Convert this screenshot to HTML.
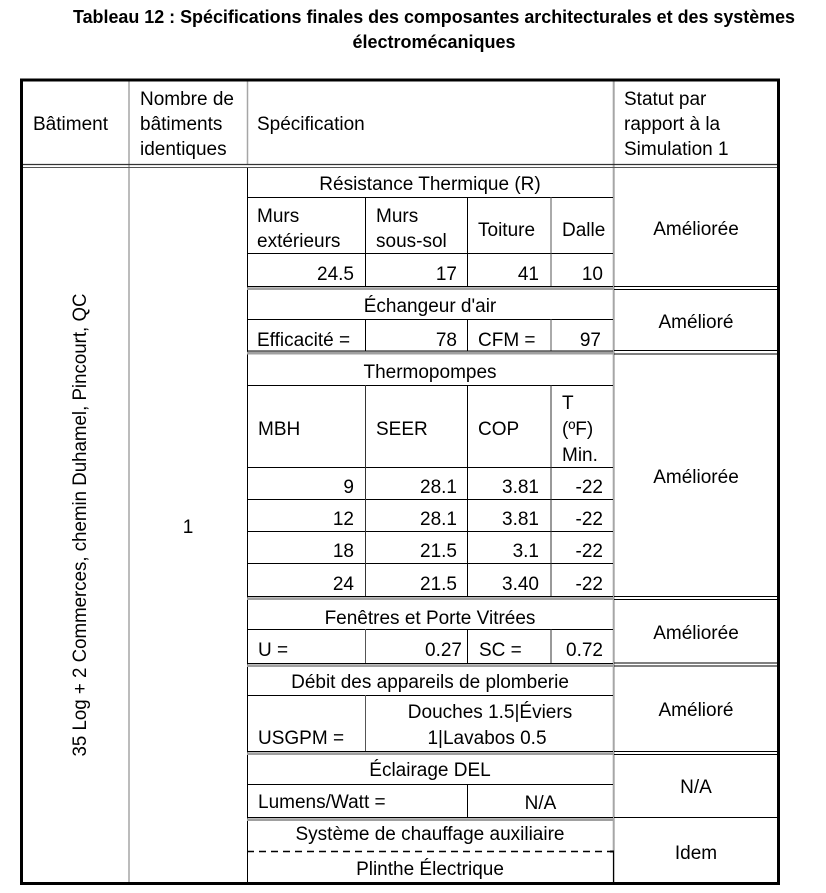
<!DOCTYPE html>
<html>
<head>
<meta charset="utf-8">
<style>
  html, body { margin: 0; padding: 0; background: #ffffff; }
  body { width: 826px; height: 893px; overflow: hidden; }
  svg { display: block; }
  text { font-family: "Liberation Sans", Arial, sans-serif; font-size: 19px; fill: #000; }
  .t { font-weight: bold; font-size: 18px; }
  .m { text-anchor: middle; }
  .e { text-anchor: end; }
</style>
</head>
<body>
<svg width="826" height="893" viewBox="0 0 826 893" xmlns="http://www.w3.org/2000/svg">
  <!-- Title -->
  <text class="t m" x="434" y="23" textLength="722" lengthAdjust="spacingAndGlyphs">Tableau 12 : Spécifications finales des composantes architecturales et des systèmes</text>
  <text class="t m" x="434" y="48">électromécaniques</text>

  <!-- Gray column lines -->
  <line x1="129" y1="81" x2="129" y2="882" stroke="#a6a6a6" stroke-width="1.5"/>
  <line x1="247.5" y1="81" x2="247.5" y2="164" stroke="#a6a6a6" stroke-width="1.5"/>
  <line x1="613.7" y1="81" x2="613.7" y2="882" stroke="#a6a6a6" stroke-width="2"/>
  <line x1="613.5" y1="852" x2="613.5" y2="882" stroke="#000" stroke-width="1"/>

  <!-- Header double line -->
  <line x1="23" y1="164.5" x2="777" y2="164.5" stroke="#333" stroke-width="1.3"/>
  <line x1="23" y1="167.5" x2="777" y2="167.5" stroke="#555" stroke-width="1.1"/>

  <!-- Sub-table left edge -->
  <line x1="247.5" y1="168" x2="247.5" y2="882" stroke="#000" stroke-width="1"/>

  <g stroke="#000" stroke-width="1">
    <!-- Section 1 Résistance -->
    <line x1="247" y1="197.5" x2="613" y2="197.5"/>
    <line x1="247" y1="253.5" x2="613" y2="253.5"/>
    <line x1="365.5" y1="197" x2="365.5" y2="286"/>
    <line x1="467.5" y1="197" x2="467.5" y2="286"/>
    <line x1="551" y1="197" x2="551" y2="286" stroke="#555"/>
    <line x1="247" y1="286.5" x2="613" y2="286.5"/>
    <line x1="614" y1="286.5" x2="777" y2="286.5"/>
    <line x1="614" y1="289.5" x2="777" y2="289.5"/>

    <!-- Section 2 Échangeur -->
    <line x1="247" y1="319.5" x2="613" y2="319.5"/>
    <line x1="365.5" y1="319" x2="365.5" y2="351"/>
    <line x1="467.5" y1="319" x2="467.5" y2="351"/>
    <line x1="551" y1="319" x2="551" y2="351" stroke="#555"/>
    <line x1="247" y1="351" x2="613" y2="351"/>
    <line x1="614" y1="350.5" x2="777" y2="350.5"/>
    <line x1="614" y1="354" x2="777" y2="354"/>

    <!-- Section 3 Thermopompes -->
    <line x1="247" y1="385.5" x2="613" y2="385.5"/>
    <line x1="247" y1="467.5" x2="613" y2="467.5"/>
    <line x1="247" y1="499.5" x2="613" y2="499.5"/>
    <line x1="247" y1="531.5" x2="613" y2="531.5"/>
    <line x1="247" y1="563.5" x2="613" y2="563.5"/>
    <line x1="365.5" y1="385" x2="365.5" y2="596" stroke="#333"/>
    <line x1="467.5" y1="385" x2="467.5" y2="596"/>
    <line x1="551" y1="385" x2="551" y2="596" stroke="#333"/>
    <line x1="247" y1="596.5" x2="613" y2="596.5"/>
    <line x1="614" y1="596.5" x2="777" y2="596.5"/>
    <line x1="614" y1="599.5" x2="777" y2="599.5"/>

    <!-- Section 4 Fenêtres -->
    <line x1="247" y1="629.5" x2="613" y2="629.5"/>
    <line x1="365.5" y1="629" x2="365.5" y2="663" stroke="#555"/>
    <line x1="467.5" y1="629" x2="467.5" y2="663"/>
    <line x1="551" y1="629" x2="551" y2="663" stroke="#333"/>
    <line x1="247" y1="663.5" x2="613" y2="663.5"/>
    <line x1="614" y1="663" x2="777" y2="663"/>
    <line x1="614" y1="666" x2="777" y2="666"/>

    <!-- Section 5 Débit -->
    <line x1="247" y1="695.5" x2="613" y2="695.5"/>
    <line x1="365.5" y1="695" x2="365.5" y2="751" stroke="#555"/>
    <line x1="247" y1="751.5" x2="613" y2="751.5"/>
    <line x1="614" y1="751.5" x2="777" y2="751.5"/>
    <line x1="614" y1="754.5" x2="777" y2="754.5"/>

    <!-- Section 6 Éclairage -->
    <line x1="247" y1="784.5" x2="613" y2="784.5"/>
    <line x1="467.5" y1="784" x2="467.5" y2="817"/>
    <line x1="247" y1="817.5" x2="613" y2="817.5"/>
    <line x1="614" y1="817.5" x2="777" y2="817.5"/>

    <!-- Section 7 Système: dashed -->
    <line x1="247" y1="851.5" x2="610" y2="851.5" stroke-dasharray="7,5" stroke-width="1.5"/>
    <line x1="610" y1="851.5" x2="614" y2="851.5" stroke-width="2"/>
  </g>

  <!-- Gray thick parts of double lines in sub-table -->
  <g fill="#a0a0a0">
    <rect x="247" y="287.3" width="366" height="2.7"/>
    <rect x="247" y="351.8" width="366" height="2.7"/>
    <rect x="247" y="597.3" width="366" height="2.7"/>
    <rect x="247" y="664.3" width="366" height="2.7"/>
    <rect x="247" y="752.3" width="366" height="2.7"/>
    <rect x="247" y="818.3" width="366" height="2.7"/>
  </g>

  <!-- Outer border -->
  <rect x="21.5" y="80" width="757" height="803.5" fill="none" stroke="#000" stroke-width="3"/>

  <!-- Header texts -->
  <text x="33" y="130">Bâtiment</text>
  <text x="140" y="105">Nombre de</text>
  <text x="140" y="130">bâtiments</text>
  <text x="140" y="155">identiques</text>
  <text x="257" y="130">Spécification</text>
  <text x="624" y="105">Statut par</text>
  <text x="624" y="130">rapport à la</text>
  <text x="624" y="155">Simulation 1</text>

  <!-- Left columns -->
  <text class="m" transform="translate(86,525) rotate(-90)" x="0" y="0" textLength="463" lengthAdjust="spacingAndGlyphs">35 Log + 2 Commerces, chemin Duhamel, Pincourt, QC</text>
  <text class="m" x="188" y="533">1</text>

  <!-- Section 1 -->
  <text class="m" x="430" y="190">Résistance Thermique (R)</text>
  <text x="257" y="222">Murs</text>
  <text x="257" y="247">extérieurs</text>
  <text x="376" y="222">Murs</text>
  <text x="376" y="247">sous-sol</text>
  <text x="478" y="236">Toiture</text>
  <text x="562" y="236">Dalle</text>
  <text class="e" x="354" y="280">24.5</text>
  <text class="e" x="457" y="280">17</text>
  <text class="e" x="539" y="280">41</text>
  <text class="e" x="603" y="280">10</text>
  <text class="m" x="696" y="235">Améliorée</text>

  <!-- Section 2 -->
  <text class="m" x="430" y="312">Échangeur d'air</text>
  <text x="257" y="346">Efficacité =</text>
  <text class="e" x="457" y="346">78</text>
  <text x="478" y="346">CFM =</text>
  <text class="e" x="601" y="346">97</text>
  <text class="m" x="696" y="328">Amélioré</text>

  <!-- Section 3 -->
  <text class="m" x="430" y="378">Thermopompes</text>
  <text x="258" y="435">MBH</text>
  <text x="376" y="435">SEER</text>
  <text x="478" y="435">COP</text>
  <text x="562" y="409">T</text>
  <text x="562" y="435">(ºF)</text>
  <text x="562" y="461">Min.</text>

  <text class="e" x="354" y="493">9</text>
  <text class="e" x="457" y="493">28.1</text>
  <text class="e" x="539" y="493">3.81</text>
  <text class="e" x="603" y="493">-22</text>

  <text class="e" x="354" y="525">12</text>
  <text class="e" x="457" y="525">28.1</text>
  <text class="e" x="539" y="525">3.81</text>
  <text class="e" x="603" y="525">-22</text>

  <text class="e" x="354" y="557">18</text>
  <text class="e" x="457" y="557">21.5</text>
  <text class="e" x="539" y="557">3.1</text>
  <text class="e" x="603" y="557">-22</text>

  <text class="e" x="354" y="590">24</text>
  <text class="e" x="457" y="590">21.5</text>
  <text class="e" x="539" y="590">3.40</text>
  <text class="e" x="603" y="590">-22</text>

  <text class="m" x="696" y="483">Améliorée</text>

  <!-- Section 4 -->
  <text class="m" x="430" y="624">Fenêtres et Porte Vitrées</text>
  <text x="258" y="656">U =</text>
  <text class="e" x="462" y="656">0.27</text>
  <text x="479" y="656">SC =</text>
  <text class="e" x="603" y="656">0.72</text>
  <text class="m" x="696" y="639">Améliorée</text>

  <!-- Section 5 -->
  <text class="m" x="430" y="688">Débit des appareils de plomberie</text>
  <text class="m" x="490" y="718">Douches 1.5|Éviers</text>
  <text class="m" x="487" y="744">1|Lavabos 0.5</text>
  <text x="258" y="744">USGPM =</text>
  <text class="m" x="696" y="716">Amélioré</text>

  <!-- Section 6 -->
  <text class="m" x="430" y="776">Éclairage DEL</text>
  <text x="258" y="808">Lumens/Watt =</text>
  <text class="m" x="540.5" y="809">N/A</text>
  <text class="m" x="696" y="793">N/A</text>

  <!-- Section 7 -->
  <text class="m" x="430" y="840">Système de chauffage auxiliaire</text>
  <text class="m" x="430" y="875">Plinthe Électrique</text>
  <text class="m" x="696" y="859">Idem</text>
</svg>
</body>
</html>
